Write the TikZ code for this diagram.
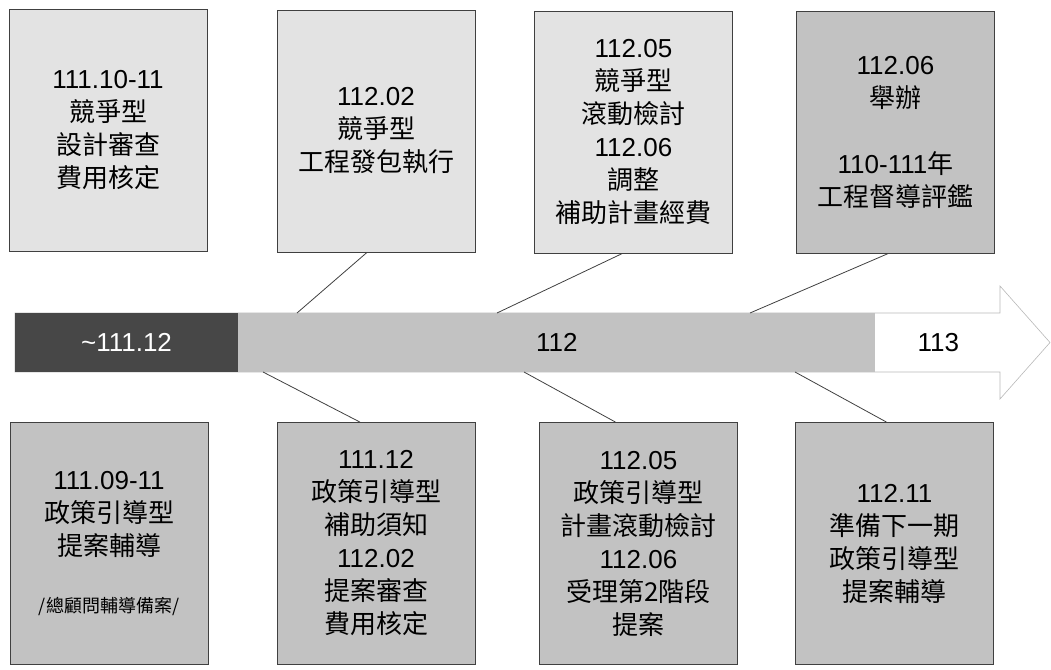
\documentclass[tikz,border=0pt]{standalone}
\usepackage{fontspec}
\setmainfont{Liberation Sans}
\newfontfamily\cjk{Noto Sans CJK TC}
\usetikzlibrary{positioning}

\begin{document}
\begin{tikzpicture}[x=1pt,y=-1pt,
    box/.style={draw=black!75,line width=0.8pt,minimum width=198pt,minimum height=242pt,inner sep=0pt,align=center,font=\fontsize{26}{33}\selectfont},
    lite/.style={box,fill=gray!22},
    deep/.style={box,fill=gray!48},
    bar/.style={minimum height=59pt,inner sep=0pt,font=\fontsize{26}{30}\selectfont},
    link/.style={draw=black!75,line width=0.8pt}]
    \useasboundingbox (0,0) rectangle (1051,669);
    % timeline arrow
    \draw[gray!55,fill=white,line width=0.6pt] (15,313) -- (1000,313) -- (1000,286) -- (1050,342.5) -- (1000,399) -- (1000,372) -- (15,372) -- cycle;
    \node[bar,fill=black!72,text=white,minimum width=223pt] (y111) at (126.5,342.5) {\textasciitilde 111.12};
    \node[bar,fill=gray!48,minimum width=637pt,right=0pt of y111] (y112) {112};
    \node[bar,minimum width=125pt,right=0pt of y112] (y113) {113};
    % upper boxes
    \node[lite] (t1) at (108,130) {111.10-11\\{\cjk 競爭型}\\{\cjk 設計審查}\\{\cjk 費用核定}};
    \node[lite] (t2) at (376,131) {112.02\\{\cjk 競爭型}\\{\cjk 工程發包執行}};
    \node[lite] (t3) at (633.5,132) {112.05\\{\cjk 競爭型}\\{\cjk 滾動檢討}\\112.06\\{\cjk 調整}\\{\cjk 補助計畫經費}};
    \node[deep] (t4) at (895.5,132) {112.06\\{\cjk 舉辦}\\[33pt]110-111{\cjk 年}\\{\cjk 工程督導評鑑}};
    % lower boxes
    \node[deep] (b1) at (109,543.5) {111.09-11\\{\cjk 政策引導型}\\{\cjk 提案輔導}\\[24pt]{\cjk\fontsize{18}{22}\selectfont /總顧問輔導備案/}};
    \node[deep] (b2) at (376,543.5) {111.12\\{\cjk 政策引導型}\\{\cjk 補助須知}\\112.02\\{\cjk 提案審查}\\{\cjk 費用核定}};
    \node[deep] (b3) at (638.5,543.5) {112.05\\{\cjk 政策引導型}\\{\cjk 計畫滾動檢討}\\112.06\\{\cjk 受理第2階段}\\{\cjk 提案}};
    \node[deep] (b4) at (894.5,543.5) {112.11\\{\cjk 準備下一期}\\{\cjk 政策引導型}\\{\cjk 提案輔導}};
    % pointers onto the bar
    \coordinate (p2) at (297,313);
    \coordinate (p3) at (497,313);
    \coordinate (p4) at (750,313);
    \coordinate (q2) at (263,372);
    \coordinate (q3) at (524,372);
    \coordinate (q4) at (795,372);
    \draw[link] ([xshift=-9pt]t2.south) -- (p2);
    \draw[link] ([xshift=-11pt]t3.south) -- (p3);
    \draw[link] ([xshift=-7pt]t4.south) -- (p4);
    \draw[link] (q2) -- ([xshift=-16pt]b2.north);
    \draw[link] (q3) -- ([xshift=-23pt]b3.north);
    \draw[link] (q4) -- ([xshift=-8pt]b4.north);
\end{tikzpicture}
\end{document}
